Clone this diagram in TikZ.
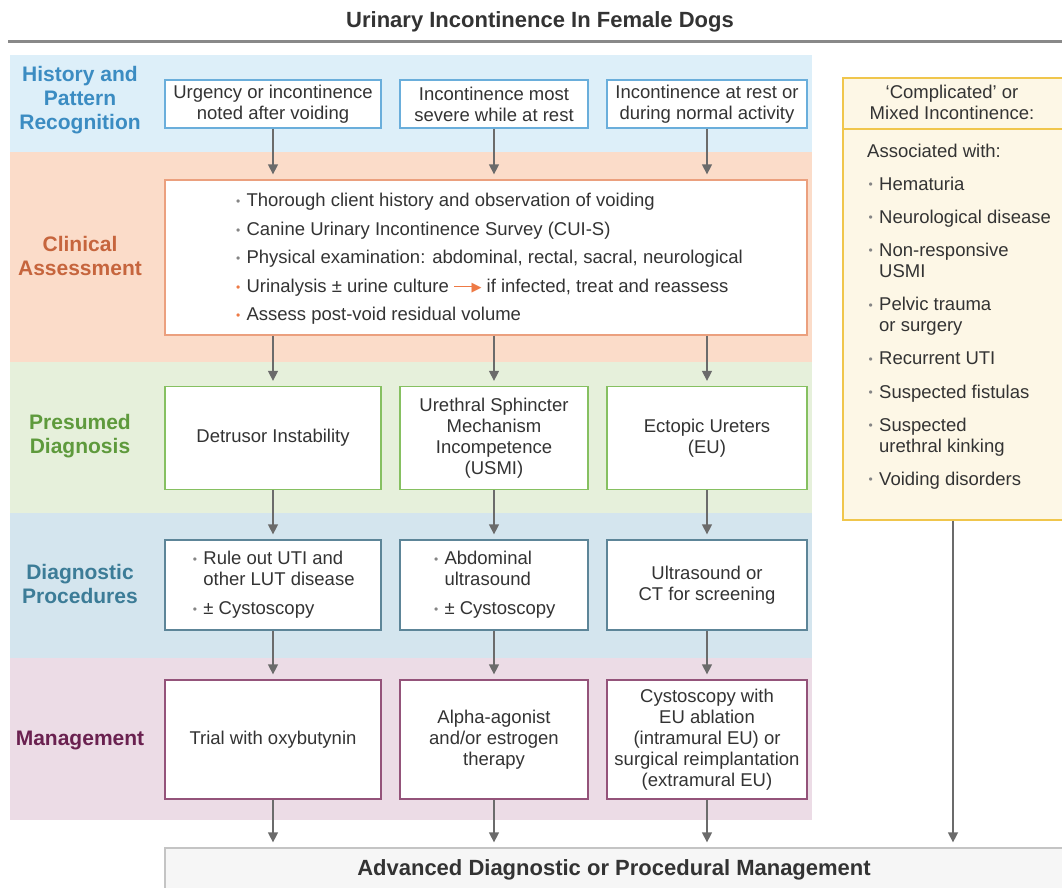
\documentclass[tikz,border=0pt]{standalone}
\usepackage{fontspec}
\setmainfont{Liberation Sans}
\newfontfamily\arrowfont{DejaVu Sans}
\usetikzlibrary{positioning,arrows.meta}

\definecolor{histband}{HTML}{DDEFF9}
\definecolor{histtext}{HTML}{3B8CC2}
\definecolor{histline}{HTML}{6AAEDB}
\definecolor{clinband}{HTML}{FBDCC9}
\definecolor{clintext}{HTML}{C6653D}
\definecolor{clinline}{HTML}{EBA07E}
\definecolor{clinbullet}{HTML}{EE7A45}
\definecolor{presband}{HTML}{E6F0DB}
\definecolor{prestext}{HTML}{5E9A3C}
\definecolor{presline}{HTML}{86C061}
\definecolor{diagband}{HTML}{D4E5EE}
\definecolor{diagtext}{HTML}{3C7C97}
\definecolor{diagline}{HTML}{5D8598}
\definecolor{mgmtband}{HTML}{ECDCE6}
\definecolor{mgmttext}{HTML}{6A2150}
\definecolor{mgmtline}{HTML}{94537A}
\definecolor{sideline}{HTML}{F0C64C}
\definecolor{sidefill}{HTML}{FDF7E6}
\definecolor{advline}{HTML}{C4C4C4}
\definecolor{advfill}{HTML}{F6F6F6}
\definecolor{arrowgray}{HTML}{6B6B6B}
\definecolor{textgray}{HTML}{333333}
\definecolor{dotgray}{HTML}{858585}

% small coloured bullet and the matching indent
\newcommand{\dotitem}[1]{\makebox[12pt][l]{\hspace{1.5pt}\color{#1}\raisebox{1.2pt}{\fontsize{12}{12}\selectfont\textbullet}}}
\newcommand{\dotgap}{\hspace*{12pt}}
% orange "then" arrow inside the clinical list
\newcommand{\thenarrow}{{\color{clinbullet}\rule[4.8pt]{19pt}{1.8pt}\kern-1.5pt\raisebox{0.6pt}{\arrowfont\fontsize{13}{13}\selectfont ▶}}}

\begin{document}
\begin{tikzpicture}[x=1pt, y=-1pt,
  boxtext/.style={font=\fontsize{18.5}{21}\selectfont, text=textgray},
  stagebox/.style={boxtext, draw=#1, fill=white, line width=1.3pt, align=center, inner sep=0pt},
  histbox/.style={stagebox=histline, minimum height=48pt},
  presbox/.style={stagebox=presline, minimum height=103pt},
  diagbox/.style={stagebox=diagline, minimum height=90pt},
  mgmtbox/.style={stagebox=mgmtline, minimum height=119pt},
  rowlabel/.style={font=\bfseries\fontsize{21}{24}\selectfont, text=#1, align=center},
  flowarrow/.style={draw=arrowgray, line width=1.4pt, -{Triangle[length=10pt,width=10pt]}, shorten >=5pt}
]
\useasboundingbox (0,0) rectangle (1062,888);
\clip (0,0) rectangle (1062,888);

% bands
\fill[histband] (10,55) rectangle (812,152);
\fill[clinband] (10,152) rectangle (812,362);
\fill[presband] (10,362) rectangle (812,513);
\fill[diagband] (10,513) rectangle (812,658);
\fill[mgmtband] (10,658) rectangle (812,820);

% title
\node[font=\bfseries\fontsize{22}{25}\selectfont, text=textgray] (title) at (540,22) {Urinary Incontinence In Female Dogs};
\draw[arrowgray!80, line width=3pt] (8,42) -- (1062,42);

% row labels
\node[rowlabel=histtext] (histlabel) at (80,100) {History and\\Pattern\\Recognition};
\node[rowlabel=clintext] (clinlabel) at (80,256) {Clinical\\Assessment};
\node[rowlabel=prestext] (preslabel) at (80,436) {Presumed\\Diagnosis};
\node[rowlabel=diagtext] (diaglabel) at (80,584) {Diagnostic\\Procedures};
\node[rowlabel=mgmttext] (mgmtlabel) at (80,740) {Management};

% history
\node[histbox, minimum width=216pt] (hist1) at (273,104) {Urgency or incontinence\\noted after voiding};
\node[histbox, minimum width=188pt] (hist2) at (494,104) {Incontinence most\\severe while at rest};
\node[histbox, minimum width=200pt] (hist3) at (707,104) {Incontinence at rest or\\during normal activity};

% clinical assessment
\node[stagebox=clinline, minimum width=642pt, minimum height=155pt] (clin) at (486,257.5) {};
\node[boxtext, anchor=west, align=left, font=\fontsize{18.5}{28.5}\selectfont] (clinlist) at (231,259)
  {\dotitem{dotgray}Thorough client history and observation of voiding\\
   \dotitem{dotgray}Canine Urinary Incontinence Survey (CUI-S)\\
   \dotitem{dotgray}Physical examination: abdominal, rectal, sacral, neurological\\
   \dotitem{clinbullet}Urinalysis ± urine culture \thenarrow\ if infected, treat and reassess\\
   \dotitem{clinbullet}Assess post-void residual volume};

% presumed diagnosis
\node[presbox, minimum width=216pt] (pres1) at (273,438) {Detrusor Instability};
\node[presbox, minimum width=188pt] (pres2) at (494,438) {Urethral Sphincter\\Mechanism\\Incompetence\\(USMI)};
\node[presbox, minimum width=200pt] (pres3) at (707,438) {Ectopic Ureters\\(EU)};

% diagnostic procedures
\node[diagbox, minimum width=216pt, align=left] (diag1) at (273,585)
  {\dotitem{dotgray}Rule out UTI and\\\dotgap other LUT disease\\[8pt]\dotitem{dotgray}± Cystoscopy};
\node[diagbox, minimum width=188pt, align=left] (diag2) at (494,585)
  {\dotitem{dotgray}Abdominal\\\dotgap ultrasound\\[8pt]\dotitem{dotgray}± Cystoscopy};
\node[diagbox, minimum width=200pt] (diag3) at (707,585) {Ultrasound or\\CT for screening};

% management
\node[mgmtbox, minimum width=216pt] (mgmt1) at (273,739.5) {Trial with oxybutynin};
\node[mgmtbox, minimum width=188pt] (mgmt2) at (494,739.5) {Alpha-agonist\\and/or estrogen\\therapy};
\node[mgmtbox, minimum width=200pt] (mgmt3) at (707,739.5) {Cystoscopy with\\EU ablation\\(intramural EU) or\\surgical reimplantation\\(extramural EU)};

% complicated / mixed
\node[draw=sideline, fill=sidefill, line width=1.3pt, minimum width=220pt, minimum height=442pt] (side) at (953,299) {};
\node[boxtext, align=center] (sidehead) at (952,102.5) {‘Complicated’ or\\Mixed Incontinence:};
\draw[sideline, line width=1.3pt] (side.west |- 0,129) -- (side.east |- 0,129);
\node[boxtext, anchor=north west, align=left, inner sep=0pt] (sidelist) at (867,143.5)
  {Associated with:\\[12pt]
   \dotitem{dotgray}Hematuria\\[12pt]
   \dotitem{dotgray}Neurological disease\\[12pt]
   \dotitem{dotgray}Non-responsive\\\dotgap USMI\\[12.5pt]
   \dotitem{dotgray}Pelvic trauma\\\dotgap or surgery\\[12pt]
   \dotitem{dotgray}Recurrent UTI\\[12.5pt]
   \dotitem{dotgray}Suspected fistulas\\[12pt]
   \dotitem{dotgray}Suspected\\\dotgap urethral kinking\\[12pt]
   \dotitem{dotgray}Voiding disorders};

% advanced
\node[draw=advline, fill=advfill, line width=1.3pt, minimum width=898pt, minimum height=44pt,
  font=\bfseries\fontsize{22}{25}\selectfont, text=textgray] (adv) at (614,870) {Advanced Diagnostic or Procedural Management};

% arrows
\foreach \c in {1,2,3} {
  \draw[flowarrow] (hist\c.south) -- (hist\c.south |- clin.north);
  \draw[flowarrow] (pres\c.north |- clin.south) -- (pres\c.north);
  \draw[flowarrow] (pres\c.south) -- (diag\c.north);
  \draw[flowarrow] (diag\c.south) -- (mgmt\c.north);
  \draw[flowarrow] (mgmt\c.south) -- (mgmt\c.south |- adv.north);
}
\draw[flowarrow] (side.south) -- (side.south |- adv.north);

\end{tikzpicture}
\end{document}
